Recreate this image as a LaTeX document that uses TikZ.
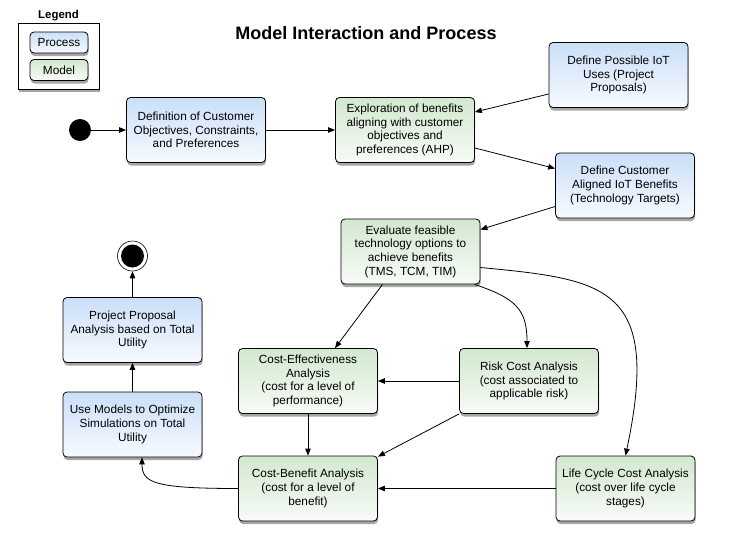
\documentclass[tikz,border=0pt]{standalone}
\usepackage{fontspec}
\setmainfont{Liberation Sans}
\usetikzlibrary{shadows,arrows.meta}
\definecolor{procTop}{HTML}{CADFF8}
\definecolor{procBot}{HTML}{F7FAFF}
\definecolor{modTop}{HTML}{D2E8CF}
\definecolor{modBot}{HTML}{F8FBF7}
\tikzset{
  box/.style={rectangle, rounded corners=4pt, draw=black, line width=0.8pt,
    minimum width=139pt, minimum height=65pt, inner sep=2pt, align=center,
    font=\fontsize{11.8}{13.7}\selectfont,
    drop shadow={shadow xshift=0.6pt, shadow yshift=-3pt, opacity=0.35, fill=black}},
  procbox/.style={box, top color=procTop, bottom color=procBot},
  modbox/.style={box, top color=modTop, bottom color=modBot},
  legbox/.style={minimum width=58pt, minimum height=21pt},
  conn/.style={line width=0.8pt, -{Triangle[length=7pt,width=5.5pt]}},
}
\begin{document}
\begin{tikzpicture}[x=1pt,y=-1pt]
\useasboundingbox (0,0) rectangle (756,552);

% title
\node (title) at (366,33) {\fontsize{18}{20}\selectfont\bfseries Model Interaction and Process};

% legend
\node (legendlabel) at (58.5,16) {\fontsize{11.4}{13}\selectfont\bfseries Legend};
\node (legend) [rectangle, draw=black, line width=0.8pt, fill=white, minimum width=81pt, minimum height=66pt,
  drop shadow={shadow xshift=0.6pt, shadow yshift=-3pt, opacity=0.35, fill=black}] at (58.5,56) {};
\node (lproc) [procbox, legbox] at (59,42.5) {Process};
\node (lmod) [modbox, legbox] at (59,70) {Model};

% start / end
\node (start) [circle, fill=black, minimum size=22pt, inner sep=0pt] at (80,130) {};
\node (finish) [circle, draw=black, line width=0.6pt, fill=white, minimum size=30pt, inner sep=0pt,
  path picture={\fill[black] (path picture bounding box.center) circle (11.5pt);}] at (132.5,256) {};

% process / model boxes
\node (def)  [procbox] at (196,130) {Definition of Customer\\Objectives, Constraints,\\and Preferences};
\node (expl) [modbox]  at (405,130) {Exploration of benefits\\aligning with customer\\objectives and\\preferences (AHP)};
\node (uses) [procbox] at (618.5,75) {Define Possible IoT\\Uses (Project\\Proposals)};
\node (cust) [procbox] at (625,185.5) {Define Customer\\Aligned IoT Benefits\\(Technology Targets)};
\node (eval) [modbox]  at (410.5,251.5) {Evaluate feasible\\technology options to\\achieve benefits\\(TMS, TCM, TIM)};
\node (proj) [procbox] at (132.5,330) {Project Proposal\\Analysis based on Total\\Utility};
\node (usem) [procbox] at (132.5,424.5) {Use Models to Optimize\\Simulations on Total\\Utility};
\node (ce)   [modbox]  at (308,381) {Cost-Effectiveness\\Analysis\\(cost for a level of\\performance)};
\node (risk) [modbox]  at (529,381) {Risk Cost Analysis\\(cost associated to\\applicable risk)};
\node (cb)   [modbox]  at (308,488.5) {Cost-Benefit Analysis\\(cost for a level of\\benefit)};
\node (lcc)  [modbox]  at (625.5,488.5) {Life Cycle Cost Analysis\\(cost over life cycle\\stages)};

% connectors
\draw[conn] (start.east) -- (def.west);
\draw[conn] (def.east) -- (expl.west);
\draw[conn] ([yshift=-19pt]uses.west) -- ([yshift=18pt]expl.east);
\draw[conn] ([yshift=-18pt]expl.east) -- ([yshift=17pt]cust.west);
\draw[conn] ([yshift=-21pt]cust.west) -- ([yshift=22pt]eval.east);
\draw[conn] ([xshift=-28pt]eval.south) -- ([xshift=27pt]ce.north);
\draw[conn] ([xshift=64pt]eval.south) .. controls +(42,14) and +(0,-38) .. ([xshift=-2pt]risk.north);
\draw[conn] ([yshift=-16pt]eval.east) .. controls +(125,12) and +(36,-170) .. (lcc.north);
\draw[conn] (risk.west) -- (ce.east);
\draw[conn] (risk.south west) -- ([yshift=-1pt]cb.north east);
\draw[conn] (lcc.west) -- (cb.east);
\draw[conn] (ce.south) -- (cb.north);
\draw[conn] (cb.west) .. controls +(-85,0) and +(0,25) .. ([xshift=9.5pt]usem.south);
\draw[conn] (usem.north) -- (proj.south);
\draw[conn] (proj.north) -- (finish.south);
\end{tikzpicture}
\end{document}
